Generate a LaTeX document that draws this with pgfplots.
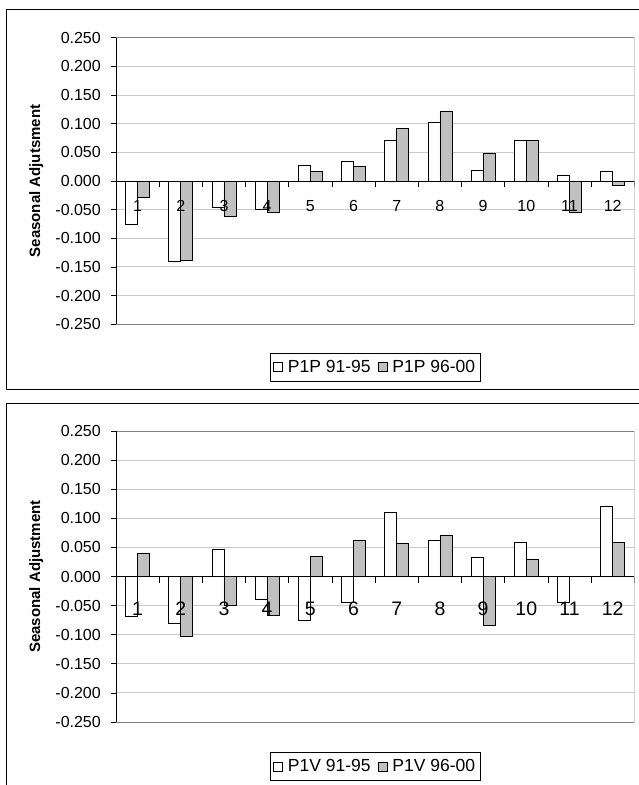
\documentclass[border=0pt]{standalone}
\usepackage{fontspec}
\setmainfont{Liberation Sans}
\usepackage{pgfplots}
\pgfplotsset{compat=1.18}

\definecolor{barfill}{RGB}{192,192,192}
\definecolor{gridgray}{RGB}{200,200,200}
\definecolor{boxgray}{RGB}{128,128,128}

% top chart
\pgfplotstableread{
m   a      b
1  -0.075 -0.028
2  -0.140 -0.138
3  -0.046 -0.061
4  -0.049 -0.054
5   0.028  0.016
6   0.035  0.026
7   0.070  0.091
8   0.102  0.121
9   0.019  0.049
10  0.071  0.071
11  0.009 -0.055
12  0.016 -0.008
}\ponep
% bottom chart
\pgfplotstableread{
m   a      b
1  -0.069  0.039
2  -0.081 -0.103
3   0.046 -0.049
4  -0.039 -0.067
5  -0.075  0.034
6  -0.044  0.062
7   0.110  0.057
8   0.062  0.071
9   0.032 -0.084
10  0.059  0.029
11 -0.044  0.000
12  0.121  0.059
}\ponev

\pgfplotsset{
  adjchart/.style={
    axis on top,
    scale only axis, width=518.3pt,
    xmin=0.5, xmax=12.5, ymin=-0.25, ymax=0.25,
    ybar=0pt, bar width=12pt,
    axis line style={draw=none},
    xtick={1,...,12},
    x tick style={draw=none},
    ytick={-0.25,-0.2,-0.15,-0.1,-0.05,0,0.05,0.1,0.15,0.2,0.25},
    ytick pos=left, tick align=outside, major tick length=5pt,
    y tick style={black, line width=0.8pt},
    /pgf/number format/assume math mode=true,
    yticklabel={\pgfmathprintnumber[fixed,fixed zerofill,precision=3]{\tick}},
    yticklabel style={font=\fontsize{16}{16}\selectfont, inner sep=1pt, xshift=-9pt},
    every axis y label/.style={at={(axis description cs:-0.154,0.5)}, rotate=90, anchor=center,
      font=\fontsize{15}{15}\selectfont\bfseries},
    legend columns=2,
    legend style={at={(0.5,0)}, anchor=north, draw=black, line width=0.8pt,
      font=\fontsize{17.5}{17.5}\selectfont, inner xsep=3pt, inner ysep=5pt,
      /tikz/every odd column/.append style={column sep=3pt},
      /tikz/every even column/.append style={column sep=5pt}},
  },
  sqleg/.style={legend image code/.code={\draw[##1,/tikz/.cd,line width=0.8pt] (0pt,-4.5pt) rectangle (9pt,4.5pt);}},
  whitebar/.style={draw=black, fill=white, line width=0.8pt, sqleg},
  graybar/.style={draw=black, fill=barfill, line width=0.8pt, sqleg},
}

% grid drawn before the bars, so the bars cover it
\newcommand{\gridparts}{%
  \pgfplotsinvokeforeach{-0.2,-0.15,-0.1,-0.05,0.05,0.1,0.15,0.2}{
    \draw[gridgray, line width=1pt] (axis cs:0.5,##1) -- (axis cs:12.5,##1);
  }%
}
\newcommand{\frameparts}{%
  \draw[boxgray, line width=0.8pt] (rel axis cs:0,0) -- (rel axis cs:1,0) -- (rel axis cs:1,1) -- (rel axis cs:0,1);
  \draw[black, line width=0.8pt] (rel axis cs:0,0) -- (rel axis cs:0,1);
  \draw[black, line width=0.8pt] (axis cs:0.5,0) -- (axis cs:12.5,0);
  \pgfplotsinvokeforeach{0.5,1.5,2.5,3.5,4.5,5.5,6.5,7.5,8.5,9.5,10.5,11.5,12.5}{
    \draw[black, line width=0.8pt] (axis cs:##1,0) -- ++(0pt,-6pt);
  }%
}

\begin{document}
\begin{tikzpicture}
\path[use as bounding box] (0pt,0pt) rectangle (639pt,-785pt);
\draw[black, line width=1pt] (6pt,-9pt) rectangle (660pt,-389pt);
\draw[black, line width=1pt] (6pt,-403pt) rectangle (660pt,-800pt);

\begin{axis}[adjchart, at={(116pt,-324.3pt)}, anchor=south west, height=286.6pt,
  ylabel={Seasonal Adjutsment},
  xticklabel style={anchor=center, yshift=123pt, font=\fontsize{16}{16}\selectfont},
  legend style={yshift=-28.7pt}]
\gridparts
\addplot[whitebar] table[x=m, y=a] {\ponep};
\addplot[graybar] table[x=m, y=b] {\ponep};
\legend{P1P 91-95, P1P 96-00}
\frameparts
\end{axis}

\begin{axis}[adjchart, at={(116pt,-722pt)}, anchor=south west, height=291pt,
  ylabel={Seasonal Adjustment},
  xticklabel style={anchor=center, yshift=118pt, font=\fontsize{19.5}{19.5}\selectfont},
  legend style={yshift=-30.3pt}]
\gridparts
\addplot[whitebar] table[x=m, y=a] {\ponev};
\addplot[graybar] table[x=m, y=b] {\ponev};
\legend{P1V 91-95, P1V 96-00}
\frameparts
\end{axis}
\end{tikzpicture}
\end{document}
